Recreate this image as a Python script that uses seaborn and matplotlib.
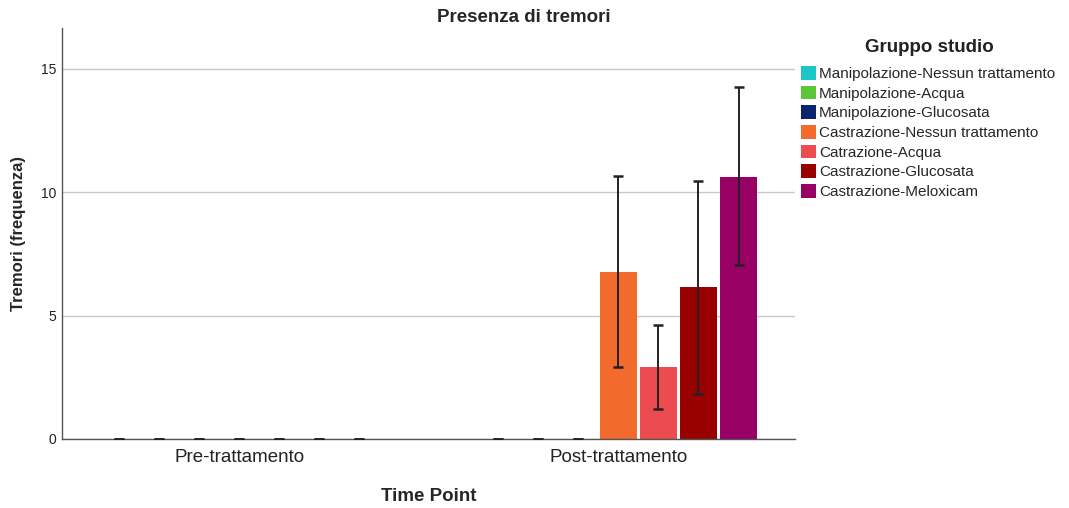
import pandas as pd
import matplotlib.pyplot as plt
import seaborn as sns
from matplotlib.patches import Patch

# Time points and study groups
time_points = ["Pre-trattamento", "Post-trattamento"]
gruppi = [
    "Manipolazione-Nessun trattamento",
    "Manipolazione-Acqua",
    "Manipolazione-Glucosata",
    "Castrazione-Nessun trattamento",
    "Catrazione-Acqua",
    "Castrazione-Glucosata",
    "Castrazione-Meloxicam",
]
colori = ["#1CC6C6", "#5BC63A", "#0B2470", "#F26A2C", "#EC4B4F", "#990000", "#990066"]

# Mean tremor frequency and error bar limits per group
pre_media = [0, 0, 0, 0, 0, 0, 0]
pre_basso = [0, 0, 0, 0, 0, 0, 0]
pre_alto = [0, 0, 0, 0, 0, 0, 0]
post_media = [0, 0, 0, 6.76, 2.90, 6.14, 10.63]
post_basso = [0, 0, 0, 2.93, 1.23, 1.83, 7.05]
post_alto = [0, 0, 0, 10.64, 4.60, 10.47, 14.25]

rows = []
for tp, med, lo, hi in [(time_points[0], pre_media, pre_basso, pre_alto),
                        (time_points[1], post_media, post_basso, post_alto)]:
    for g, m, l, h in zip(gruppi, med, lo, hi):
        rows.append({"Time Point": tp, "Gruppo studio": g, "Tremori": m, "lo": l, "hi": h})
df = pd.DataFrame(rows)

sns.set_style("white")
plt.rcParams["font.family"] = ["Liberation Sans", "DejaVu Sans"]

fig = plt.figure(figsize=(10.69, 5.08), dpi=100)
ax = fig.add_axes([0.058, 0.136, 0.686, 0.809])

sns.barplot(
    data=df, x="Time Point", y="Tremori", hue="Gruppo studio",
    order=time_points, hue_order=gruppi, palette=colori, saturation=1,
    width=0.74, gap=0.08, errorbar=None, legend=False, ax=ax,
    edgecolor="none",
)

# Error bars on top of each bar
for cont, g in zip(ax.containers, gruppi):
    for bar, tp in zip(cont, time_points):
        r = df[(df["Gruppo studio"] == g) & (df["Time Point"] == tp)].iloc[0]
        xc = bar.get_x() + bar.get_width() / 2
        ax.errorbar(xc, r["Tremori"], yerr=[[r["Tremori"] - r["lo"]], [r["hi"] - r["Tremori"]]],
                    fmt="none", ecolor="#222222", elinewidth=1.4, capsize=3.6, capthick=1.8, zorder=4)

ax.set_xlim(-0.467, 1.467)
ax.set_ylim(0, 16.66)
ax.set_yticks([0, 5, 10, 15])
ax.yaxis.grid(True, color="#C8C8C8", linewidth=1)
ax.set_axisbelow(True)
for s in ["top", "right"]:
    ax.spines[s].set_visible(False)
for s in ["left", "bottom"]:
    ax.spines[s].set_color("#555555")
    ax.spines[s].set_linewidth(1)
ax.tick_params(axis="y", length=0, labelsize=10, pad=4, labelcolor="#222222")
ax.tick_params(axis="x", length=0, labelsize=13.5, pad=7, labelcolor="#222222")

ax.set_xlabel("Time Point", fontsize=13.5, fontweight="bold", labelpad=16)
ax.set_ylabel("Tremori (frequenza)", fontsize=12, fontweight="bold", labelpad=11)
fig.suptitle("Presenza di tremori", x=0.49, y=0.983, fontsize=13.5, fontweight="bold")

# Legend outside the axes on the right
fig.text(0.869, 0.907, "Gruppo studio", fontsize=13.5, fontweight="bold",
         ha="center", va="center", color="#222222")
handles = [Patch(facecolor=c, edgecolor="none") for c in colori]
leg = fig.legend(handles, gruppi, loc="upper left",
                 bbox_to_anchor=(0.749, 0.870), frameon=False, fontsize=11,
                 handlelength=1.0, handleheight=1.0, handletextpad=0.2,
                 labelspacing=0.3, borderaxespad=0, borderpad=0)

fig.savefig("out.png", dpi=100)
